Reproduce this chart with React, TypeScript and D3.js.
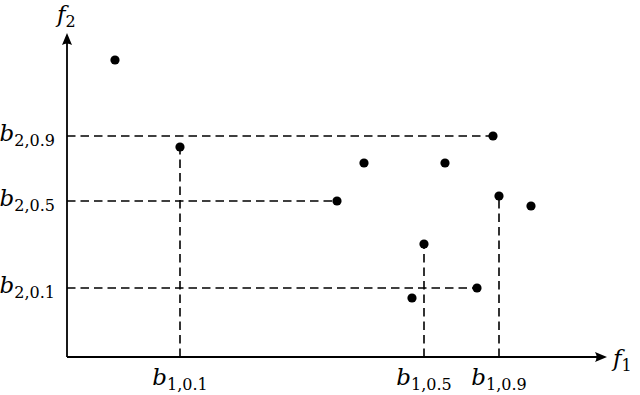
import React from "react";
import * as d3 from "d3";

const f1Values = [48, 113, 270, 297, 378, 426, 432, 464, 357, 345, 410];
const f2Values = [297, 210, 156, 194, 194, 221, 161, 151, 113, 59, 69];
const b1Labels = ["1,0.1", "1,0.5", "1,0.9"];
const b1Values = [113, 357, 432];
const b1Heights = [210, 113, 161];
const b2Labels = ["2,0.9", "2,0.5", "2,0.1"];
const b2Values = [221, 156, 69];
const b2Extents = [426, 270, 410];

export default function App() {
  const x = d3.scaleLinear().domain([0, 540]).range([67, 607]);
  const y = d3.scaleLinear().domain([0, 324]).range([357, 33]);
  const font = "DejaVu Serif, Liberation Serif, serif";
  const dash = "8.5 5";
  const x0 = x(0), y0 = y(0);
  const ax = x(540), ay = y(324);
  return (
    <svg width={640} height={395} style={{ position: "absolute", left: 0, top: 0 }}>
      <rect width={640} height={395} fill="#fff" />
      {b2Values.map((b, i) => (
        <line key={"h" + i} x1={x0} x2={x(b2Extents[i])} y1={y(b)} y2={y(b)}
          stroke="#000" strokeWidth={1.6} strokeDasharray={dash} />
      ))}
      {b1Values.map((b, i) => (
        <line key={"v" + i} x1={x(b)} x2={x(b)} y1={y0} y2={y(b1Heights[i])}
          stroke="#000" strokeWidth={1.6} strokeDasharray={dash} />
      ))}
      <line x1={x0} x2={ax - 6} y1={y0} y2={y0} stroke="#000" strokeWidth={1.8} />
      <line x1={x0} x2={x0} y1={y0} y2={ay + 6} stroke="#000" strokeWidth={1.8} />
      <path d={`M${ax},${y0} L${ax - 12},${y0 - 5} Q${ax - 9},${y0} ${ax - 12},${y0 + 5} Z`} fill="#000" />
      <path d={`M${x0},${ay} L${x0 - 5},${ay + 12} Q${x0},${ay + 9} ${x0 + 5},${ay + 12} Z`} fill="#000" />
      {f1Values.map((v, i) => (
        <circle key={"p" + i} cx={x(v)} cy={y(f2Values[i])} r={4.6} fill="#000" />
      ))}
      {b2Values.map((b, i) => (
        <text key={"yl" + i} x={55} y={y(b) + 5} textAnchor="end" style={{ fontFamily: font }} fontSize={23}>
          <tspan fontStyle="italic">b</tspan>
          <tspan fontSize={16} dy={5}>{b2Labels[i]}</tspan>
        </text>
      ))}
      {b1Values.map((b, i) => (
        <text key={"xl" + i} x={x(b)} y={385} textAnchor="middle" style={{ fontFamily: font }} fontSize={23}>
          <tspan fontStyle="italic">b</tspan>
          <tspan fontSize={16} dy={5}>{b1Labels[i]}</tspan>
        </text>
      ))}
      <text x={613} y={366} style={{ fontFamily: font }} fontSize={23}>
        <tspan fontStyle="italic">f</tspan>
        <tspan fontSize={16} dy={5}>1</tspan>
      </text>
      <text x={57} y={22} style={{ fontFamily: font }} fontSize={23}>
        <tspan fontStyle="italic">f</tspan>
        <tspan fontSize={16} dy={5}>2</tspan>
      </text>
    </svg>
  );
}
